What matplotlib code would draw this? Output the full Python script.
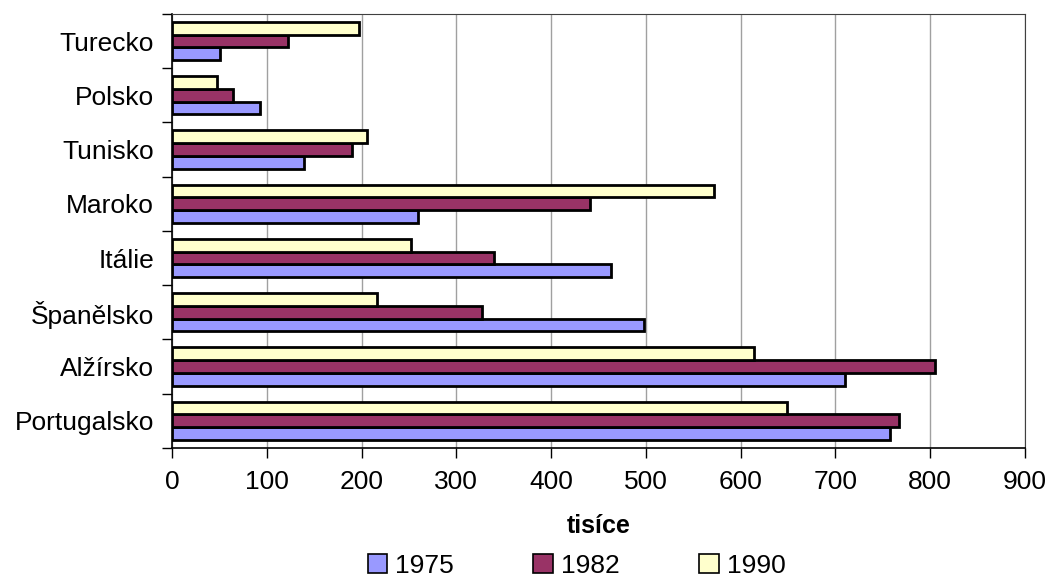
import numpy as np
import matplotlib.pyplot as plt
from matplotlib.patches import Patch

plt.rcParams['font.family'] = ['Liberation Sans', 'DejaVu Sans']

countries = ['Portugalsko', 'Alžírsko', 'Španělsko', 'Itálie',
             'Maroko', 'Tunisko', 'Polsko', 'Turecko']
years = ['1975', '1982', '1990']
v1975 = [758, 710, 498, 463, 260, 139, 93, 51]
v1982 = [767, 805, 327, 340, 441, 190, 64, 122]
v1990 = [649, 614, 216, 252, 572, 206, 47, 197]
colors = ['#9999FF', '#993366', '#FFFFCC']

fig = plt.figure(figsize=(10.52, 5.81), dpi=100)
ax = fig.add_axes([0.1635, 0.229, 0.8108, 0.747])

y = np.arange(len(countries))
h = 0.235
for k, vals in enumerate([v1975, v1982, v1990]):
    ax.barh(y + (k - 1) * h, vals, h, color=colors[k], edgecolor='black',
            linewidth=2, zorder=3)

ax.set_xlim(0, 900)
ax.set_ylim(-0.5, len(countries) - 0.5)
ax.set_xticks(np.arange(0, 901, 100))
ax.xaxis.grid(True, color='#a0a0a0', linewidth=1, zorder=0)

# category labels between boundary ticks
ax.set_yticks(y)
ax.set_yticklabels(countries, fontsize=19)
ax.set_yticks(np.arange(-0.5, len(countries), 1), minor=True)
ax.tick_params(axis='y', which='major', length=0, pad=13)
ax.tick_params(axis='y', which='minor', length=7, width=1, direction='out')
ax.tick_params(axis='x', length=7, width=1, direction='out', labelsize=19, pad=9)

for s in ['top', 'right']:
    ax.spines[s].set_color('#404040')
for s in ['left', 'bottom']:
    ax.spines[s].set_linewidth(1.2)

ax.set_xlabel('tisíce', fontsize=18, fontweight='bold', labelpad=14)

handles = [Patch(facecolor=c, edgecolor='black', linewidth=1.2) for c in colors]
fig.legend(handles, years, loc='lower center', bbox_to_anchor=(0.548, -0.035),
           ncol=3, frameon=False, fontsize=19, handlelength=0.75, handleheight=0.75,
           handletextpad=0.3, columnspacing=3.0)

fig.savefig('out.png', dpi=100)
